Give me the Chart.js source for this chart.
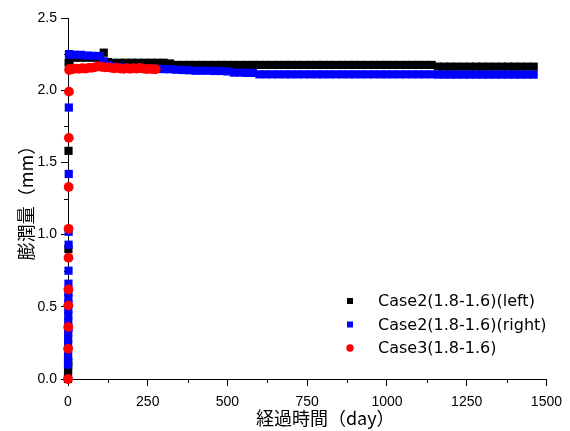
<!DOCTYPE html>
<html>
<head>
<meta charset="utf-8">
<script src="https://cdn.jsdelivr.net/npm/chart.js@4.4.1/dist/chart.umd.min.js"></script>
<style>
  body { margin: 0; background: #fff; }
</style>
</head>
<body>
<canvas id="swellChart" width="570" height="431"></canvas>
<script>
// series names
var seriesNames = ['Case2(1.8-1.6)(left)', 'Case2(1.8-1.6)(right)', 'Case3(1.8-1.6)'];

// first few days: the swelling rises almost instantly
var riseDaysLeft = [0, 0, 0.3, 0.5, 0.8, 1, 1.3, 1.6, 2];
var riseLeft = [0, 0.03, 0.06, 0.09, 0.12, 0.35, 0.9, 1.58, 2.19];

var riseDaysRight = [0, 0.1, 0.2, 0.3, 0.4, 0.5, 0.6, 0.7, 0.8, 0.9, 1, 1.1, 1.2, 1.3, 1.4, 1.6, 1.8, 2, 2.3, 2.6, 3];
var riseRight = [0.1, 0.13, 0.16, 0.2, 0.24, 0.28, 0.32, 0.36, 0.4, 0.44, 0.48, 0.52, 0.56, 0.6, 0.66, 0.75, 0.93, 1.02, 1.42, 1.88, 2.25];

var riseDaysCase3 = [0, 0.3, 0.6, 0.9, 1.2, 1.5, 1.8, 2.1, 2.5, 3, 3.5];
var riseCase3 = [0, 0.21, 0.36, 0.51, 0.62, 0.84, 1.04, 1.33, 1.67, 1.99, 2.14];

// long term readings (day)
var plateauDays = [5, 20, 40, 60, 80, 100, 112, 125,
    140, 160, 180, 200, 220, 240, 260, 280, 300, 320, 340, 360, 380, 400, 420, 440, 460, 480, 500,
    520, 540, 560, 580, 600, 620, 640, 660, 680, 700, 720, 740, 760, 780, 800, 820, 840, 860, 880,
    900, 920, 940, 960, 980, 1000, 1020, 1040, 1060, 1080, 1100, 1120, 1140, 1160, 1180, 1200,
    1220, 1240, 1260, 1280, 1300, 1320, 1340, 1360, 1380, 1400, 1420, 1440, 1460];

var plateauLeft = [2.20, 2.225, 2.225, 2.225, 2.225, 2.225, 2.26, 2.195,
    2.19, 2.19, 2.19, 2.19, 2.19, 2.19, 2.19, 2.19, 2.19, 2.185, 2.175, 2.175, 2.175, 2.175, 2.175, 2.175, 2.175, 2.175, 2.175,
    2.175, 2.175, 2.175, 2.175, 2.175, 2.175, 2.175, 2.175, 2.175, 2.175, 2.175, 2.175, 2.175, 2.175, 2.175, 2.175, 2.175, 2.175, 2.175,
    2.175, 2.175, 2.175, 2.175, 2.175, 2.175, 2.175, 2.175, 2.175, 2.175, 2.175, 2.175, 2.175, 2.163, 2.163, 2.163,
    2.163, 2.163, 2.163, 2.163, 2.163, 2.163, 2.163, 2.163, 2.163, 2.163, 2.163, 2.163, 2.163];

var plateauRight = [2.248, 2.245, 2.245, 2.24, 2.238, 2.236, 2.2, 2.175,
    2.165, 2.16, 2.155, 2.152, 2.15, 2.15, 2.15, 2.148, 2.146, 2.145, 2.142, 2.14, 2.138, 2.135, 2.135, 2.135, 2.133, 2.133, 2.13,
    2.122, 2.122, 2.12, 2.12, 2.11, 2.11, 2.11, 2.11, 2.11, 2.11, 2.11, 2.11, 2.11, 2.11, 2.11, 2.11, 2.11, 2.11, 2.11,
    2.11, 2.11, 2.11, 2.11, 2.11, 2.11, 2.11, 2.11, 2.11, 2.11, 2.11, 2.11, 2.11, 2.108, 2.108, 2.108,
    2.108, 2.108, 2.108, 2.108, 2.108, 2.108, 2.108, 2.108, 2.108, 2.108, 2.108, 2.108, 2.108];

var plateauDaysCase3 = [5, 15, 25, 35, 45, 55, 65, 75, 85, 95, 105, 115, 125, 135, 145, 155, 165, 175, 185, 195,
    205, 215, 225, 235, 245, 255, 265, 275];
var plateauCase3 = [2.148, 2.146, 2.15, 2.148, 2.152, 2.15, 2.155, 2.155, 2.16, 2.165, 2.162, 2.158, 2.16, 2.155, 2.152, 2.155,
    2.15, 2.148, 2.152, 2.148, 2.152, 2.15, 2.155, 2.15, 2.146, 2.148, 2.146, 2.145];

// axis ticks
var minorX = [125, 375, 625, 875, 1125, 1375];
var minorY = [0.25, 0.75, 1.25, 1.75, 2.25];
var xTitle = '経過時間（day）';
var yTitle = '膨潤量（mm）';

function toPoints(days, vals) {
    var pts = [];
    days.forEach(function (d, i) { pts.push({x: d, y: vals[i]}); });
    return pts;
}

var extras = {
    id: 'extras',
    beforeDatasetsDraw: function (chart) {
        var ctx = chart.ctx, xs = chart.scales.x, ys = chart.scales.y;
        ctx.save();
        ctx.strokeStyle = '#000';
        ctx.lineWidth = 1;
        ctx.beginPath();
        minorY.forEach(function (v) {
            var y = Math.round(ys.getPixelForValue(v)) + 0.5;
            ctx.moveTo(xs.left, y);
            ctx.lineTo(xs.left - 4, y);
        });
        minorX.forEach(function (v) {
            var x = Math.round(xs.getPixelForValue(v)) + 0.5;
            ctx.moveTo(x, ys.bottom);
            ctx.lineTo(x, ys.bottom + 4);
        });
        ctx.stroke();
        ctx.restore();
    },
    afterDraw: function (chart) {
        var ctx = chart.ctx, area = chart.chartArea;
        ctx.save();
        ctx.fillStyle = '#000';
        ctx.font = '18px "Noto Sans CJK JP"';
        ctx.textAlign = 'center';
        ctx.textBaseline = 'middle';
        ctx.fillText(xTitle, (area.left + area.right) / 2 + 18, 418);

        // legend
        ctx.font = '16px "DejaVu Sans"';
        ctx.textAlign = 'left';
        chart.data.datasets.forEach(function (ds, i) {
            var y = 301 + i * 23.5;
            ctx.fillStyle = ds.backgroundColor;
            if (ds.pointStyle === 'circle') {
                ctx.beginPath();
                ctx.arc(350, y, 3.7, 0, Math.PI * 2);
                ctx.fill();
            } else {
                ctx.fillRect(347, y - 3, 6, 6);
            }
            ctx.fillStyle = '#000';
            ctx.fillText(ds.label, 378, y + 1);
        });
        ctx.restore();
    }
};

new Chart(document.getElementById('swellChart'), {
    type: 'scatter',
    data: {
        datasets: [{
            label: seriesNames[0],
            data: toPoints(riseDaysLeft.concat(plateauDays), riseLeft.concat(plateauLeft)),
            backgroundColor: '#000000',
            borderWidth: 0,
            pointStyle: 'rect',
            pointRadius: 5.8,
            order: 3,
            clip: false
        }, {
            label: seriesNames[1],
            data: toPoints(riseDaysRight.concat(plateauDays), riseRight.concat(plateauRight)),
            backgroundColor: '#0000ff',
            borderWidth: 0,
            pointStyle: 'rect',
            pointRadius: 5.8,
            order: 2,
            clip: false
        }, {
            label: seriesNames[2],
            data: toPoints(riseDaysCase3.concat(plateauDaysCase3), riseCase3.concat(plateauCase3)),
            backgroundColor: '#ff0000',
            borderWidth: 0,
            pointStyle: 'circle',
            pointRadius: 4.9,
            order: 1,
            clip: false
        }]
    },
    options: {
        responsive: false,
        animation: false,
        events: [],
        layout: { padding: { top: 18, right: 22, left: 0, bottom: 0 } },
        plugins: {
            legend: { display: false },
            tooltip: { enabled: false }
        },
        scales: {
            x: {
                type: 'linear',
                min: 0,
                max: 1500,
                afterFit: function (scale) { scale.height = 52; },
                border: { display: true, color: '#000', width: 1 },
                grid: { drawOnChartArea: false, drawTicks: true, tickLength: 7, color: '#000' },
                ticks: {
                    stepSize: 250,
                    padding: 8,
                    color: '#000',
                    maxRotation: 0,
                    font: { family: '"Liberation Sans"', size: 14 },
                    callback: function (v) { return String(v); }
                }
            },
            y: {
                min: 0,
                max: 2.5,
                afterFit: function (scale) { scale.width = 68; },
                border: { display: true, color: '#000', width: 1 },
                grid: { drawOnChartArea: false, drawTicks: true, tickLength: 7, color: '#000' },
                ticks: {
                    stepSize: 0.5,
                    padding: 4,
                    color: '#000',
                    font: { family: '"Liberation Sans"', size: 14 },
                    callback: function (v) { return v.toFixed(1); }
                },
                title: {
                    display: true,
                    text: yTitle,
                    color: '#000',
                    font: { family: '"Noto Sans CJK JP"', size: 18 },
                    padding: { top: 15, bottom: 0 }
                }
            }
        }
    },
    plugins: [extras]
});
</script>
</body>
</html>
